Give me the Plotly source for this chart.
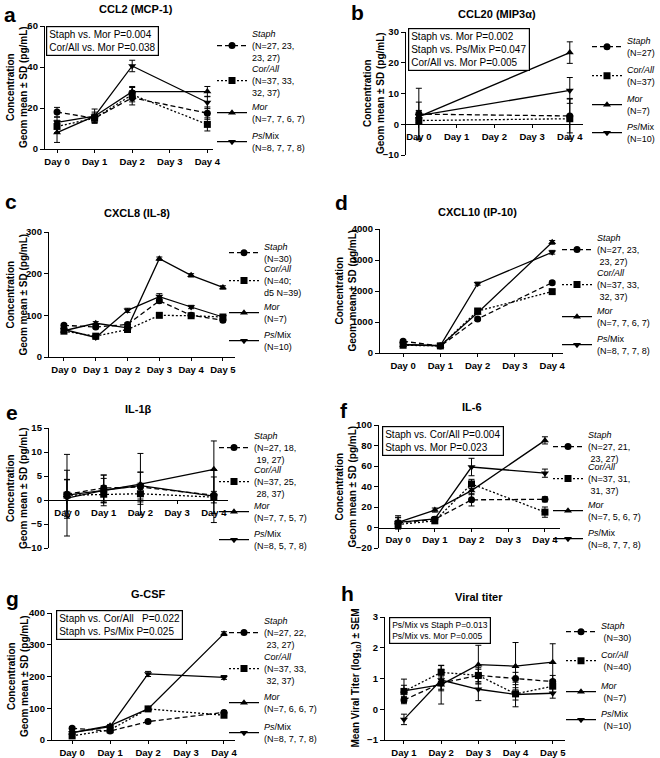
import plotly.graph_objects as go

W, H = 660, 758
FONT = "Liberation Sans, Arial, sans-serif"

# ---------------- data ----------------
GROUPS = ["Staph", "Cor/All", "Mor", "Ps/Mix"]
DAY_LABELS_0_4 = ["Day 0", "Day 1", "Day 2", "Day 3", "Day 4"]
DAY_LABELS_0_5 = ["Day 0", "Day 1", "Day 2", "Day 3", "Day 4", "Day 5"]
DAY_LABELS_1_5 = ["Day 1", "Day 2", "Day 3", "Day 4", "Day 5"]

# a  CCL2 (MCP-1)
a_days = [0, 1, 2, 4]
a_staph = [18, 15, 25, 17.5]
a_staph_sd = [2.3, 2.0, 3.5, 3.0]
a_corall = [11, 15, 26.5, 12]
a_corall_sd = [3.0, 2.0, 3.5, 3.2]
a_mor = [8, 16, 28, 28]
a_mor_sd = [4.8, 3.5, 2.5, 2.5]
a_psmix = [13, 16, 40.5, 22.7]
a_psmix_sd = [2.5, 2.0, 2.8, 3.0]

# b  CCL20 (MIP3a)
b_days = [0, 4]
b_staph = [3.3, 2.7]
b_staph_sd = [8.4, 5.5]
b_corall = [1.2, 1.8]
b_corall_sd = [6.0, 6.6]
b_mor = [2.5, 23.3]
b_mor_sd = [2.0, 3.5]
b_psmix = [2.8, 11.0]
b_psmix_sd = [1.5, 4.2]

# c  CXCL8 (IL-8)
c_days = [0, 1, 2, 3, 4, 5]
c_staph = [76, 72, 78, 135, 100, 88]
c_staph_sd = [4, 4, 4, 5, 4, 4]
c_corall = [62, 50, 66, 100, 99, 96]
c_corall_sd = [4, 4, 4, 4, 4, 4]
c_mor = [63, 81, 70, 236, 196, 167]
c_mor_sd = [4, 4, 4, 4, 4, 4]
c_psmix = [66, 47, 112, 145, 120, 96]
c_psmix_sd = [4, 4, 5, 7, 4, 4]

# d  CXCL10 (IP-10)
d_days = [0, 1, 2, 4]
d_staph = [380, 225, 1100, 2270]
d_staph_sd = [40, 30, 50, 50]
d_corall = [250, 230, 1355, 1980]
d_corall_sd = [30, 30, 60, 50]
d_mor = [260, 235, 1300, 3570]
d_mor_sd = [30, 30, 50, 60]
d_psmix = [280, 240, 2237, 3250]
d_psmix_sd = [30, 30, 50, 60]

# e  IL-1b
e_days = [0, 1, 2, 4]
e_staph = [1.2, 2.5, 2.7, 1.0]
e_staph_sd = [5.0, 2.7, 3.1, 3.8]
e_corall = [1.0, 1.2, 1.3, 0.6]
e_corall_sd = [3.3, 1.8, 2.2, 1.2]
e_mor = [1.0, 2.0, 3.3, 6.4]
e_mor_sd = [8.5, 3.2, 6.4, 5.9]
e_psmix = [0.4, 2.0, 3.0, 0.8]
e_psmix_sd = [3.8, 2.5, 2.8, 5.5]

# f  IL-6
f_days = [0, 1, 2, 4]
f_staph = [4.5, 8, 27, 27.5]
f_staph_sd = [5.0, 2.0, 6.0, 2.5]
f_corall = [3, 6.5, 42.5, 15]
f_corall_sd = [4.0, 2.0, 4.5, 5.0]
f_mor = [5, 17, 36, 85]
f_mor_sd = [5.0, 2.0, 4.0, 3.5]
f_psmix = [5, 8.5, 59, 53]
f_psmix_sd = [6.5, 2.0, 8.5, 4.0]

# g  G-CSF
g_days = [0, 1, 2, 4]
g_staph = [37, 28, 58, 87]
g_staph_sd = [5, 4, 5, 6]
g_corall = [13, 32, 98, 78]
g_corall_sd = [4, 4, 6, 6]
g_mor = [23, 45, 98, 335]
g_mor_sd = [4, 4, 6, 6]
g_psmix = [23, 42, 208, 197]
g_psmix_sd = [4, 4, 8, 6]

# h  Viral titer (log10, mean +/- SEM)
h_days = [1, 2, 3, 4, 5]
h_staph = [0.3, 0.85, 1.1, 1.0, 0.9]
h_staph_sem = [0.12, 0.2, 0.2, 0.2, 0.2]
h_corall = [0.58, 1.2, 1.1, 0.5, 0.75]
h_corall_sem = [0.2, 0.22, 0.25, 0.2, 0.2]
h_mor = [0.6, 0.8, 1.45, 1.4, 1.53]
h_mor_sem = [0.38, 0.63, 0.63, 0.77, 0.6]
h_psmix = [-0.33, 0.95, 0.65, 0.48, 0.52]
h_psmix_sem = [0.17, 0.35, 0.37, 0.4, 0.16]

# legend texts
a_legend = ["<i>Staph</i><br>(N=27, 23,<br>23, 27)", "<i>Cor/All</i><br>(N=37, 33,<br>32, 37)",
            "<i>Mor</i><br>(N=7, 7, 6, 7)", "<i>Ps</i>/Mix<br>(N=8, 7, 7, 8)"]
b_legend = ["<i>Staph</i><br>(N=27)", "<i>Cor/All</i><br>(N=37)", "<i>Mor</i><br>(N=7)", "<i>Ps</i>/Mix<br>(N=10)"]
c_legend = ["<i>Staph</i><br>(N=30)", "<i>Cor/All</i><br>(N=40;<br>d5 N=39)", "<i>Mor</i><br>(N=7)",
            "<i>Ps</i>/Mix<br>(N=10)"]
d_legend = ["<i>Staph</i><br>(N=27, 23,<br>\u00a023, 27)", "<i>Cor/All</i><br>(N=37, 33,<br>\u00a032, 37)",
            "<i>Mor</i><br>(N=7, 7, 6, 7)", "<i>Ps</i>/Mix<br>(N=8, 7, 7, 8)"]
e_legend = ["<i>Staph</i><br>(N=27, 18,<br>\u00a019, 27)", "<i>Cor/All</i><br>(N=37, 25,<br>\u00a028, 37)",
            "<i>Mor</i><br>(N=7, 7, 5, 7)", "<i>Ps</i>/Mix<br>(N=8, 5, 7, 8)"]
f_legend = ["<i>Staph</i><br>(N=27, 21,<br>\u00a023, 27)", "<i>Cor/All</i><br>(N=37, 31,<br>\u00a031, 37)",
            "<i>Mor</i><br>(N=7, 5, 6, 7)", "<i>Ps</i>/Mix<br>(N=8, 7, 7, 8)"]
g_legend = ["<i>Staph</i><br>(N=27, 22,<br>\u00a023, 27)", "<i>Cor/All</i><br>(N=37, 33,<br>\u00a032, 37)",
            "<i>Mor</i><br>(N=7, 6, 6, 7)", "<i>Ps</i>/Mix<br>(N=8, 7, 7, 8)"]
h_legend = ["<i>Staph</i><br>\u00a0(N=30)", "<i>Cor/All</i><br>\u00a0(N=40)", "<i>Mor</i><br>\u00a0(N=7)",
            "<i>Ps</i>/Mix<br>\u00a0(N=10)"]

# ---------------- styles / layout ----------------
DASHES = ["5px,3px", "2px,2px", "solid", "solid"]
SYMBOLS = ["circle", "square", "triangle-up", "triangle-down"]
CONC_TITLE = "Concentration<br>Geom mean \u00b1 SD (pg/mL)"

panels = [
    dict(letter="a", title="CCL2 (MCP-1)", box=(45, 213, 26, 149), yr=[0, 60], yt=[0, 20, 40, 60],
         xr=[-0.32, 4.15], xt=[0, 1, 2, 3, 4], xl=DAY_LABELS_0_4, days=a_days,
         series=[(a_staph, a_staph_sd), (a_corall, a_corall_sd), (a_mor, a_mor_sd), (a_psmix, a_psmix_sd)],
         legend=a_legend, leg_x=251, leg_y=[46, 81, 113, 142], ytitle=CONC_TITLE, ytx=17.5,
         tpos=(136, 9), lpos=(10, 14),
         box_text="Staph vs. Mor P=0.004<br>Cor/All vs. Mor P=0.038", bpos=(46, 26), bfs=10, zero=False),
    dict(letter="b", title="CCL20 (MIP3\u03b1)", box=(406, 583, 32, 155), yr=[-10, 30], yt=[-10, 0, 10, 20, 30],
         xr=[-0.34, 4.35], xt=[0, 1, 2, 3, 4], xl=DAY_LABELS_0_4, days=b_days,
         series=[(b_staph, b_staph_sd), (b_corall, b_corall_sd), (b_mor, b_mor_sd), (b_psmix, b_psmix_sd)],
         legend=b_legend, leg_x=626, leg_y=[47, 76, 105, 133], ytitle=CONC_TITLE, ytx=373.5,
         tpos=(497, 14), lpos=(357, 12),
         box_text="Staph vs. Mor P=0.002<br>Staph vs. Ps/Mix P=0.047<br>Cor/All vs. Mor P=0.005",
         bpos=(408, 28), bfs=10, zero=True),
    dict(letter="c", title="CXCL8 (IL-8)", box=(49, 235, 232, 357), yr=[0, 300], yt=[0, 100, 200, 300],
         xr=[-0.47, 5.38], xt=[0, 1, 2, 3, 4, 5], xl=DAY_LABELS_0_5, days=c_days,
         series=[(c_staph, c_staph_sd), (c_corall, c_corall_sd), (c_mor, c_mor_sd), (c_psmix, c_psmix_sd)],
         legend=c_legend, leg_x=263, leg_y=[253, 281, 313, 341], ytitle=CONC_TITLE, ytx=16,
         tpos=(137, 213), lpos=(11, 201), box_text=None, zero=False),
    dict(letter="d", title="CXCL10 (IP-10)", box=(380, 563, 229, 353), yr=[0, 4000],
         yt=[0, 1000, 2000, 3000, 4000],
         xr=[-0.62, 4.29], xt=[0, 1, 2, 3, 4], xl=DAY_LABELS_0_4, days=d_days,
         series=[(d_staph, d_staph_sd), (d_corall, d_corall_sd), (d_mor, d_mor_sd), (d_psmix, d_psmix_sd)],
         legend=d_legend, leg_x=596, leg_y=[250, 285, 317, 345], ytitle=CONC_TITLE, ytx=345.5,
         tpos=(477, 212), lpos=(341, 202), box_text=None, zero=False),
    dict(letter="e", title="IL-1\u03b2", box=(49, 228, 428, 548), yr=[-10, 15], yt=[-10, -5, 0, 5, 10, 15],
         xr=[-0.49, 4.385], xt=[0, 1, 2, 3, 4], xl=DAY_LABELS_0_4, days=e_days,
         series=[(e_staph, e_staph_sd), (e_corall, e_corall_sd), (e_mor, e_mor_sd), (e_psmix, e_psmix_sd)],
         legend=e_legend, leg_x=253, leg_y=[448, 482, 512, 540], ytitle=CONC_TITLE, ytx=17,
         tpos=(138, 409), lpos=(12, 412), box_text=None, zero=True),
    dict(letter="f", title="IL-6", box=(379, 560, 425, 548), yr=[-20, 100], yt=[-20, 0, 20, 40, 60, 80, 100],
         xr=[-0.52, 4.41], xt=[0, 1, 2, 3, 4], xl=DAY_LABELS_0_4, days=f_days,
         series=[(f_staph, f_staph_sd), (f_corall, f_corall_sd), (f_mor, f_mor_sd), (f_psmix, f_psmix_sd)],
         legend=f_legend, leg_x=587, leg_y=[447, 479, 511, 539], ytitle=CONC_TITLE, ytx=345,
         tpos=(472, 407), lpos=(344, 410),
         box_text="Staph vs. Cor/All P=0.004<br>Staph vs. Mor P=0.023", bpos=(382, 426), bfs=10, zero=True),
    dict(letter="g", title="G-CSF", box=(52, 235, 613, 740), yr=[0, 400], yt=[0, 100, 200, 300, 400],
         xr=[-0.53, 4.29], xt=[0, 1, 2, 3, 4], xl=DAY_LABELS_0_4, days=g_days,
         series=[(g_staph, g_staph_sd), (g_corall, g_corall_sd), (g_mor, g_mor_sd), (g_psmix, g_psmix_sd)],
         legend=g_legend, leg_x=263, leg_y=[633, 669, 703, 733], ytitle=CONC_TITLE, ytx=17.5,
         tpos=(148, 594), lpos=(12, 598),
         box_text="Staph vs. Cor/All\u00a0\u00a0\u00a0P=0.022<br>Staph vs. Ps/Mix P=0.025", bpos=(56, 610),
         bfs=10, zero=False),
    dict(letter="h", title="Viral titer", box=(385, 565, 617, 740), yr=[-1, 3], yt=[-1, 0, 1, 2, 3],
         xr=[0.49, 5.33], xt=[1, 2, 3, 4, 5], xl=DAY_LABELS_1_5, days=h_days,
         series=[(h_staph, h_staph_sem), (h_corall, h_corall_sem), (h_mor, h_mor_sem), (h_psmix, h_psmix_sem)],
         legend=h_legend, leg_x=600, leg_y=[632, 661, 692, 720],
         ytitle="Mean Viral Titer (log<sub>10</sub>) \u00b1 SEM", ytx=355,
         tpos=(479, 597), lpos=(347, 593),
         box_text="Ps/Mix vs Staph P=0.013<br>Ps/Mix vs. Mor P=0.005", bpos=(389, 617), bfs=8.5, zero=False),
]


def px(x):
    return x / W


def py(y):
    return 1 - y / H


fig = go.Figure()
layout = dict(width=W, height=H, margin=dict(l=0, r=0, t=0, b=0, autoexpand=False), paper_bgcolor="white",
              plot_bgcolor="rgba(0,0,0,0)", font=dict(family=FONT, color="black"))
annotations = []
leg_idx = 0

for i, p in enumerate(panels):
    n = "" if i == 0 else str(i + 1)
    xref, yref = "x" + n, "y" + n
    x0, x1, yt_, yb_ = p["box"]
    ymin, ymax = p["yr"]
    ydom = [py(yb_), py(yt_)]
    xa = dict(domain=[px(x0), px(x1)], range=p["xr"], tickvals=p["xt"], ticktext=p["xl"],
              showline=True, linecolor="black", linewidth=1.3, ticks="outside", ticklen=3,
              tickwidth=1.2, tickcolor="black", showgrid=False, zeroline=False,
              tickfont=dict(family=FONT, size=9.5, color="black", weight="bold"), fixedrange=True)
    if p["zero"]:
        xa.update(anchor="free", position=ydom[0] + (0 - ymin) / (ymax - ymin) * (ydom[1] - ydom[0]))
    else:
        xa.update(anchor=yref)
    ya = dict(domain=ydom, range=p["yr"], tickvals=p["yt"], anchor=xref,
              showline=True, linecolor="black", linewidth=1.3, ticks="outside", ticklen=4,
              tickwidth=1.2, tickcolor="black", showgrid=False, zeroline=False,
              tickfont=dict(family=FONT, size=9.5, color="black", weight="bold"), fixedrange=True)
    layout["xaxis" + n] = xa
    layout["yaxis" + n] = ya

    for k, (vals, err) in enumerate(p["series"]):
        leg_idx += 1
        lid = "legend" if leg_idx == 1 else "legend" + str(leg_idx)
        fig.add_trace(go.Scatter(
            x=p["days"], y=vals, mode="lines+markers", name=p["legend"][k],
            xaxis=xref, yaxis=yref, legend=lid, showlegend=True,
            line=dict(color="black", width=1.3, dash=DASHES[k]),
            marker=dict(symbol=SYMBOLS[k], size=7, color="black"),
            error_y=dict(type="data", array=err, visible=True, color="black", thickness=1, width=3),
        ))
        layout[lid] = dict(x=px(p["leg_x"] - 39), y=py(p["leg_y"][k]), xanchor="left", yanchor="middle",
                           bgcolor="rgba(0,0,0,0)", borderwidth=0, valign="middle",
                           font=dict(family=FONT, size=9, color="black"))

    # panel letter
    annotations.append(dict(text="<b>%s</b>" % p["letter"], x=px(p["lpos"][0]), y=py(p["lpos"][1]),
                            xref="paper", yref="paper", showarrow=False, xanchor="center", yanchor="middle",
                            font=dict(family=FONT, size=21, color="black")))
    # title
    annotations.append(dict(text="<b>%s</b>" % p["title"], x=px(p["tpos"][0]), y=py(p["tpos"][1]),
                            xref="paper", yref="paper", showarrow=False, xanchor="center", yanchor="middle",
                            font=dict(family=FONT, size=11, color="black")))
    # y title
    annotations.append(dict(text="<b>%s</b>" % p["ytitle"], x=px(p["ytx"]), y=py((yt_ + yb_) / 2),
                            xref="paper", yref="paper", showarrow=False, xanchor="center", yanchor="middle",
                            textangle=-90, font=dict(family=FONT, size=10, color="black")))
    # stats box
    if p["box_text"]:
        annotations.append(dict(text=p["box_text"], x=px(p["bpos"][0]), y=py(p["bpos"][1]),
                                xref="paper", yref="paper", showarrow=False, xanchor="left", yanchor="top",
                                align="left", bordercolor="black", borderwidth=1.2, borderpad=2,
                                bgcolor="white", font=dict(family=FONT, size=p["bfs"], color="black")))

layout["annotations"] = annotations
fig.update_layout(**layout)
# the page's default 8px body margin would shift the whole figure; remove it
fig.write_html("out.html", config={"displayModeBar": False},
               post_script="document.body.style.margin='0';document.body.style.overflow='hidden';")
